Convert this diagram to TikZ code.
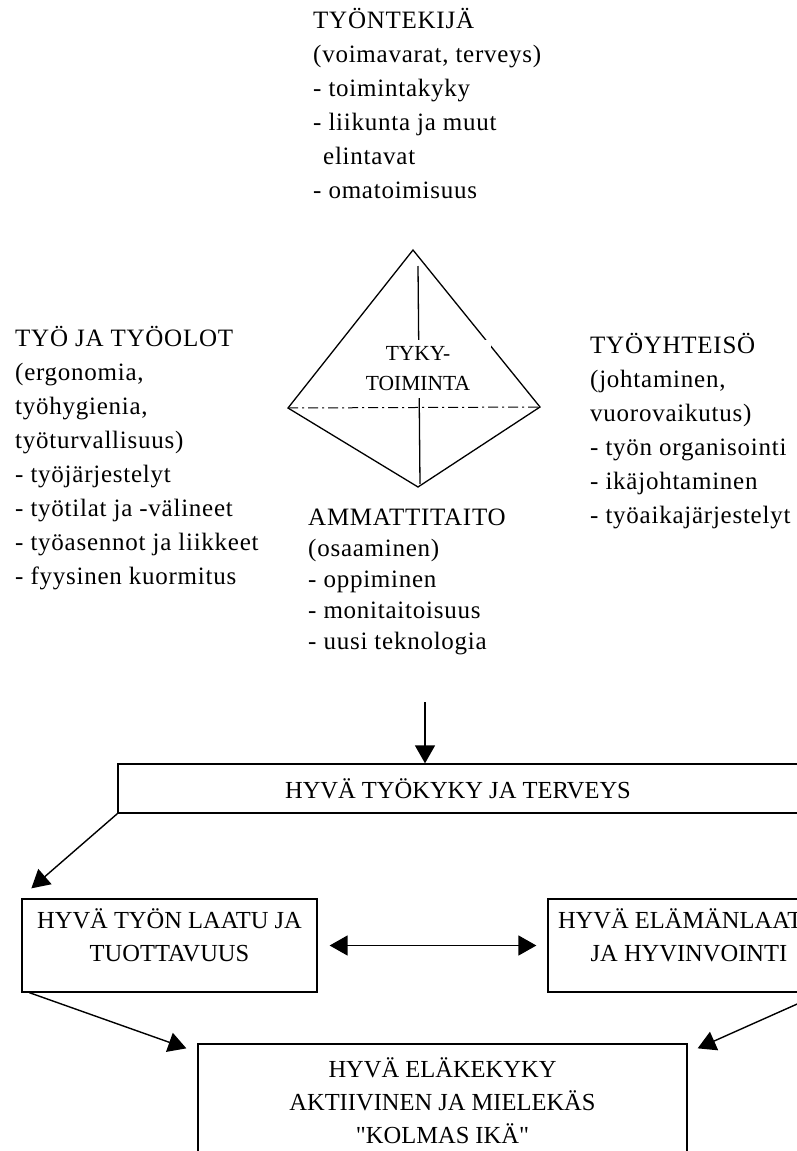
\documentclass[tikz,border=0pt]{standalone}
\usepackage{fontspec}
\setmainfont{Liberation Serif}
\newfontfamily\harva[LetterSpace=3]{Liberation Serif}
\usetikzlibrary{arrows.meta}

\begin{document}
\begin{tikzpicture}[x=1pt,y=-1pt,
	    teksti/.style={align=left,anchor=base west,inner sep=0pt,font=\harva\fontsize{25}{34}\selectfont},
	    laatikko/.style={draw,line width=1.3pt,align=center,inner sep=0pt,font=\fontsize{24.5}{33}\selectfont},
	    nuoli/.style={line width=1.4pt,-{Triangle[length=18pt,width=20pt]}},
	    reuna/.style={line width=1.3pt}]
	    \useasboundingbox (0,0) rectangle (797,1151);

	    % pyramidi
	    \coordinate (huippu) at (413,250);
	    \coordinate (vasen) at (288,408);
	    \coordinate (oikea) at (540,407);
	    \coordinate (pohja) at (418,487);
	    \draw[reuna] (vasen) -- (huippu) -- (oikea) -- (pohja) -- cycle;
	    \draw[reuna] (418,266) -- (420,484);
	    \draw[line width=1pt, dash pattern=on 10pt off 4pt on 2pt off 4pt] (vasen) -- (oikea);
	    \node[fill=white, minimum width=146pt, minimum height=58pt, align=center, inner sep=0pt,
	          font=\fontsize{21.5}{30}\selectfont] (tyky) at (418,369) {TYKY-\\TOIMINTA};

	    % tekstit (base = viimeisen rivin perusviiva)
	    \node[teksti] (tyontekija) at (313,198) {TYÖNTEKIJÄ\\(voimavarat, terveys)\\- toimintakyky\\- liikunta ja muut\\\hspace*{10pt}elintavat\\- omatoimisuus};
	    \node[teksti] (tyoolot) at (15,584) {TYÖ JA TYÖOLOT\\(ergonomia,\\työhygienia,\\työturvallisuus)\\- työjärjestelyt\\- työtilat ja -välineet\\- työasennot ja liikkeet\\- fyysinen kuormitus};
	    \node[teksti] (yhteiso) at (590,523) {TYÖYHTEISÖ\\(johtaminen,\\vuorovaikutus)\\- työn organisointi\\- ikäjohtaminen\\- työaikajärjestelyt};
	    \node[teksti, font=\harva\fontsize{25}{31}\selectfont] (ammatti) at (308,649) {AMMATTITAITO\\(osaaminen)\\- oppiminen\\- monitaitoisuus\\- uusi teknologia};

	    % laatikot
	    \node[laatikko, minimum width=680pt, minimum height=49pt] (kyky) at (458,788.5) {HYVÄ TYÖKYKY JA TERVEYS};
	    \node[laatikko, minimum width=295pt, minimum height=93pt] (laatu) at (169.5,945.5) {HYVÄ TYÖN LAATU JA\\TUOTTAVUUS\\[-12pt]\mbox{}};
	    \node[laatikko, minimum width=282pt, minimum height=93pt] (elama) at (689,945.5) {HYVÄ ELÄMÄNLAATU\\JA HYVINVOINTI\\[-12pt]\mbox{}};
	    \node[laatikko, minimum width=489pt, minimum height=114pt] (elake) at (442.5,1101) {HYVÄ ELÄKEKYKY\\AKTIIVINEN JA MIELEKÄS\\\textquotedbl KOLMAS IKÄ\textquotedbl};

	    \coordinate (alku) at (425,702);
	    \draw[nuoli] (alku) -- (alku |- kyky.north);
	    \draw[nuoli] (kyky.south west) -- ([shift={(10,-10)}]laatu.north west);
	    \draw[nuoli] ([xshift=8pt]laatu.south west) -- ([shift={(-11,5)}]elake.north west);
	    \draw[nuoli] ([xshift=-8pt]elama.south east) -- ([shift={(10,5)}]elake.north east);
	    \draw[line width=1.6pt, {Triangle[length=18pt,width=20pt]}-{Triangle[length=18pt,width=20pt]},
	          shorten <=12pt, shorten >=11pt] (laatu) -- (elama);
	\end{tikzpicture}
\end{document}
